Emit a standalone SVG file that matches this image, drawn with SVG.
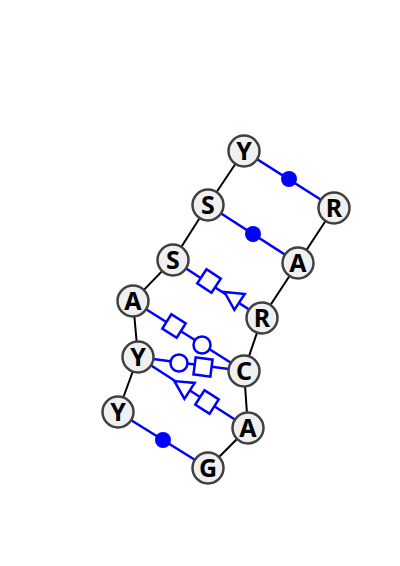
<svg xmlns="http://www.w3.org/2000/svg" width="400" height="566" viewBox="0 0 400 566">
<style>
.bb{stroke:#000;stroke-width:2;fill:none}
.bp{stroke:#0000ff;stroke-width:2.5;fill:none}
.sym{stroke:#0000ff;stroke-width:2.5;fill:#fff}
.dot{fill:#0000ff;stroke:none}
.nd circle{fill:#f0f0f0;stroke:#404040;stroke-width:2.5}
.nd text{font-family:"Noto Sans","DejaVu Sans",sans-serif;font-weight:bold;font-size:25px;text-anchor:middle;fill:#000}
</style>
<defs>
<rect id="sq" x="-8.5" y="-8.5" width="17" height="17"/>
<polygon id="tri" points="-9,0 9,-9.5 9,9.5"/>
</defs>
<rect width="400" height="566" fill="#fff"/>
<g id="connectors">
<path class="bb" d="M244,151 L208,205 L173,260 L133,301 L138,357 L118,412"/>
<path class="bb" d="M334,208 L298,263 L262,318 L244,371 L248,428 L208,468"/>
<line class="bp" x1="244" y1="151" x2="334" y2="208"/>
<line class="bp" x1="208" y1="205" x2="298" y2="263"/>
<line class="bp" x1="173" y1="260" x2="262" y2="318"/>
<line class="bp" x1="133" y1="301" x2="244" y2="371"/>
<line class="bp" x1="138" y1="357" x2="244" y2="371"/>
<line class="bp" x1="138" y1="357" x2="248" y2="428"/>
<line class="bp" x1="118" y1="412" x2="208" y2="468"/>
<circle class="dot" cx="289" cy="179" r="8"/>
<circle class="dot" cx="253" cy="234" r="8"/>
<circle class="dot" cx="163" cy="440" r="8"/>
<use href="#sq" class="sym" transform="translate(209,281) rotate(33.1)"/>
<use href="#tri" class="sym" transform="translate(232,297) rotate(33.1)"/>
<use href="#sq" class="sym" transform="translate(174,326) rotate(32.2)"/>
<circle class="sym" cx="202" cy="345" r="8.5"/>
<circle class="sym" cx="179" cy="363" r="8.5"/>
<use href="#sq" class="sym" transform="translate(203,367) rotate(7.5)"/>
<use href="#tri" class="sym" transform="translate(182,386) rotate(32.8)"/>
<use href="#sq" class="sym" transform="translate(207,402) rotate(32.8)"/>
</g>
<g id="n1" class="nd"><circle cx="244" cy="151" r="15.5"/><text x="244" y="160">Y</text></g>
<g id="n2" class="nd"><circle cx="208" cy="205" r="15.5"/><text x="208" y="214">S</text></g>
<g id="n3" class="nd"><circle cx="173" cy="260" r="15.5"/><text x="173" y="269">S</text></g>
<g id="n4" class="nd"><circle cx="133" cy="301" r="15.5"/><text x="133" y="310">A</text></g>
<g id="n5" class="nd"><circle cx="138" cy="357" r="15.5"/><text x="138" y="366">Y</text></g>
<g id="n6" class="nd"><circle cx="118" cy="412" r="15.5"/><text x="118" y="421">Y</text></g>
<g id="n7" class="nd"><circle cx="208" cy="468" r="15.5"/><text x="208" y="477">G</text></g>
<g id="n8" class="nd"><circle cx="248" cy="428" r="15.5"/><text x="248" y="437">A</text></g>
<g id="n9" class="nd"><circle cx="244" cy="371" r="15.5"/><text x="244" y="380">C</text></g>
<g id="n10" class="nd"><circle cx="262" cy="318" r="15.5"/><text x="262" y="327">R</text></g>
<g id="n11" class="nd"><circle cx="298" cy="263" r="15.5"/><text x="298" y="272">A</text></g>
<g id="n12" class="nd"><circle cx="334" cy="208" r="15.5"/><text x="334" y="217">R</text></g>
</svg>
